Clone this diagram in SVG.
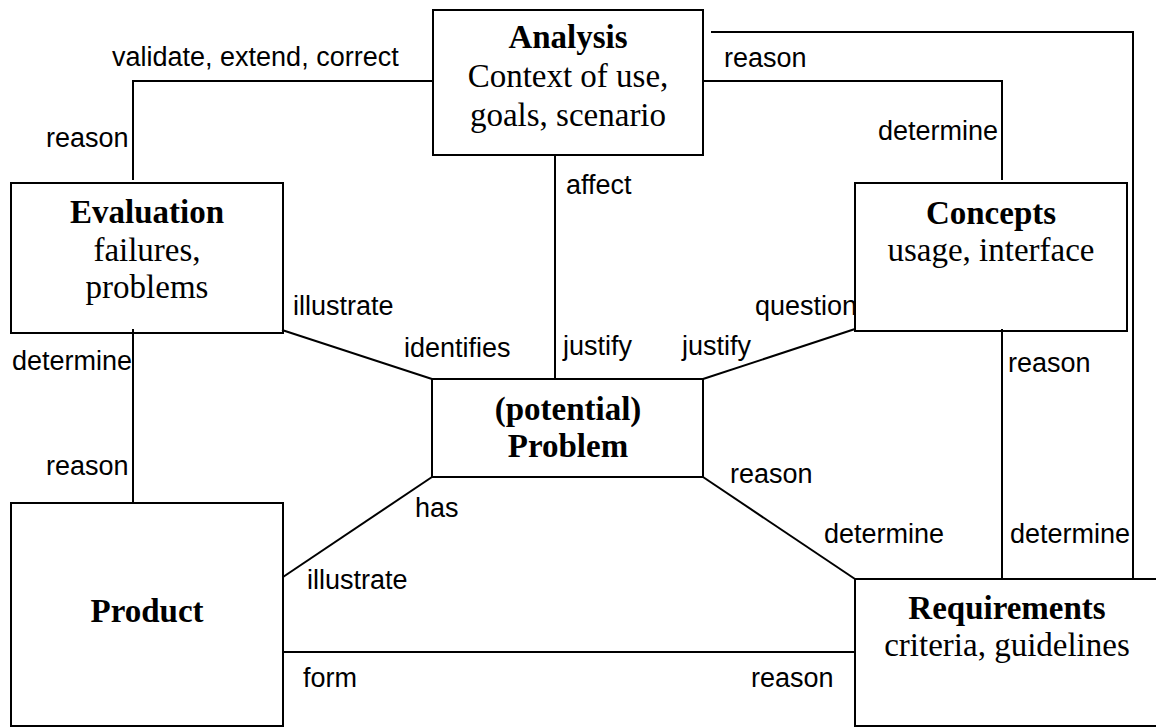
<svg xmlns="http://www.w3.org/2000/svg" width="1156" height="727" viewBox="0 0 1156 727">
<style>
.box{fill:none;stroke:#000;stroke-width:2}
.ln{fill:none;stroke:#000;stroke-width:2}
.t{font-family:"Liberation Serif","Times New Roman",serif;font-size:33px;fill:#000;text-anchor:middle}
.b{font-weight:bold}
.lb{font-family:"Liberation Sans",Arial,sans-serif;font-size:27px;fill:#000}
</style>
<rect width="1156" height="727" fill="#fff"/>
<g id="connectors">
<polyline class="ln" points="433,81 133,81 133,180"/>
<polyline class="ln" points="703,81 1002,81 1002,180"/>
<polyline class="ln" points="711,32 1133,32 1133,579"/>
<line class="ln" x1="555" y1="155" x2="555" y2="379"/>
<line class="ln" x1="133" y1="329" x2="133" y2="503"/>
<line class="ln" x1="282" y1="330" x2="432" y2="379"/>
<line class="ln" x1="855" y1="329" x2="703" y2="379"/>
<line class="ln" x1="432" y1="477" x2="283" y2="577"/>
<line class="ln" x1="703" y1="477" x2="855" y2="579"/>
<line class="ln" x1="1002" y1="329" x2="1002" y2="579"/>
<line class="ln" x1="283" y1="652" x2="855" y2="652"/>
<text class="lb" x="112" y="66">validate, extend, correct</text>
<text class="lb" x="46" y="147">reason</text>
<text class="lb" x="724" y="67">reason</text>
<text class="lb" x="878" y="140">determine</text>
<text class="lb" x="566" y="194">affect</text>
<text class="lb" x="293" y="315">illustrate</text>
<text class="lb" x="404" y="357">identifies</text>
<text class="lb" x="563" y="355">justify</text>
<text class="lb" x="682" y="355">justify</text>
<text class="lb" x="755" y="315">question</text>
<text class="lb" x="12" y="370">determine</text>
<text class="lb" x="46" y="475">reason</text>
<text class="lb" x="1008" y="372">reason</text>
<text class="lb" x="730" y="483">reason</text>
<text class="lb" x="415" y="517">has</text>
<text class="lb" x="307" y="589">illustrate</text>
<text class="lb" x="824" y="543">determine</text>
<text class="lb" x="1010" y="543">determine</text>
<text class="lb" x="303" y="687">form</text>
<text class="lb" x="751" y="687">reason</text>
</g>
<g id="analysis">
<rect class="box" x="433" y="10" width="270" height="145" fill="#fff"/>
<text class="t b" x="568" y="48">Analysis</text>
<text class="t" x="568" y="87">Context of use,</text>
<text class="t" x="568" y="126">goals, scenario</text>
</g>
<g id="evaluation">
<rect class="box" x="11" y="183" width="272" height="150"/>
<text class="t b" x="147" y="223">Evaluation</text>
<text class="t" x="147" y="261">failures,</text>
<text class="t" x="147" y="298">problems</text>
</g>
<g id="concepts">
<rect class="box" x="855" y="183" width="272" height="148"/>
<text class="t b" x="991" y="224">Concepts</text>
<text class="t" x="991" y="261">usage, interface</text>
</g>
<g id="problem">
<rect class="box" x="432" y="379" width="271" height="98"/>
<text class="t b" x="568" y="420">(potential)</text>
<text class="t b" x="568" y="457">Problem</text>
</g>
<g id="product">
<rect class="box" x="11" y="503" width="272" height="223"/>
<text class="t b" x="147" y="622">Product</text>
</g>
<g id="requirements">
<rect class="box" x="855" y="579" width="320" height="147"/>
<text class="t b" x="1007" y="619">Requirements</text>
<text class="t" x="1007" y="656">criteria, guidelines</text>
</g>
</svg>
